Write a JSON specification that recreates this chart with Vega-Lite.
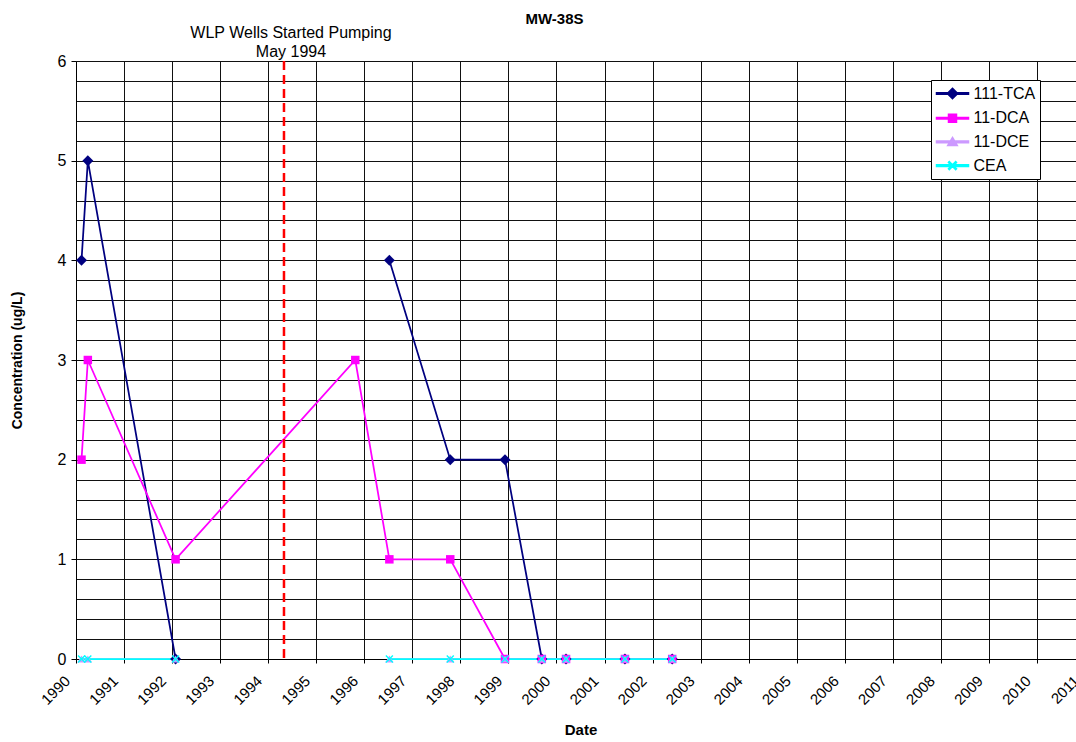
{
  "$schema": "https://vega.github.io/schema/vega-lite/v6.json",
  "width": 1009,
  "height": 598,
  "autosize": {"type": "none"},
  "padding": {"left": 76, "top": 61, "right": 0, "bottom": 83},
  "background": "white",
  "config": {
    "font": "Liberation Sans",
    "view": {"stroke": null},
    "axis": {
      "labelColor": "black",
      "labelFont": "Liberation Sans",
      "titleFont": "Liberation Sans",
      "titleColor": "black",
      "domainColor": "black",
      "domainWidth": 1,
      "tickColor": "black",
      "gridColor": "#111",
      "gridOpacity": 1,
      "gridWidth": 1
    }
  },
  "title": {
    "text": "MW-38S",
    "fontSize": 15,
    "fontWeight": "bold",
    "font": "Liberation Sans",
    "color": "black",
    "anchor": "middle",
    "offset": -2,
    "dx": -26
  },
  "datasets": {
    "samples": [
      {"date": "1990-02-12", "series": "111-TCA", "value": 4},
      {"date": "1990-04-01", "series": "111-TCA", "value": 5},
      {"date": "1992-01-28", "series": "111-TCA", "value": 0},
      {"date": "1995-10-25", "series": "111-TCA", "value": null},
      {"date": "1996-07-10", "series": "111-TCA", "value": 4},
      {"date": "1997-10-16", "series": "111-TCA", "value": 2},
      {"date": "1998-12-06", "series": "111-TCA", "value": 2},
      {"date": "1999-09-12", "series": "111-TCA", "value": 0},
      {"date": "2000-03-14", "series": "111-TCA", "value": 0},
      {"date": "2001-06-05", "series": "111-TCA", "value": 0},
      {"date": "2002-05-30", "series": "111-TCA", "value": 0},
      {"date": "1990-02-12", "series": "11-DCA", "value": 2},
      {"date": "1990-04-01", "series": "11-DCA", "value": 3},
      {"date": "1992-01-28", "series": "11-DCA", "value": 1},
      {"date": "1995-10-25", "series": "11-DCA", "value": 3},
      {"date": "1996-07-10", "series": "11-DCA", "value": 1},
      {"date": "1997-10-16", "series": "11-DCA", "value": 1},
      {"date": "1998-12-06", "series": "11-DCA", "value": 0},
      {"date": "1999-09-12", "series": "11-DCA", "value": 0},
      {"date": "2000-03-14", "series": "11-DCA", "value": 0},
      {"date": "2001-06-05", "series": "11-DCA", "value": 0},
      {"date": "2002-05-30", "series": "11-DCA", "value": 0},
      {"date": "1990-02-12", "series": "11-DCE", "value": 0},
      {"date": "1990-04-01", "series": "11-DCE", "value": 0},
      {"date": "1992-01-28", "series": "11-DCE", "value": 0},
      {"date": "1995-10-25", "series": "11-DCE", "value": null},
      {"date": "1996-07-10", "series": "11-DCE", "value": 0},
      {"date": "1997-10-16", "series": "11-DCE", "value": 0},
      {"date": "1998-12-06", "series": "11-DCE", "value": 0},
      {"date": "1999-09-12", "series": "11-DCE", "value": 0},
      {"date": "2000-03-14", "series": "11-DCE", "value": 0},
      {"date": "2001-06-05", "series": "11-DCE", "value": 0},
      {"date": "2002-05-30", "series": "11-DCE", "value": 0},
      {"date": "1990-02-12", "series": "CEA", "value": 0},
      {"date": "1990-04-01", "series": "CEA", "value": 0},
      {"date": "1992-01-28", "series": "CEA", "value": 0},
      {"date": "1995-10-25", "series": "CEA", "value": null},
      {"date": "1996-07-10", "series": "CEA", "value": 0},
      {"date": "1997-10-16", "series": "CEA", "value": 0},
      {"date": "1998-12-06", "series": "CEA", "value": 0},
      {"date": "1999-09-12", "series": "CEA", "value": 0},
      {"date": "2000-03-14", "series": "CEA", "value": 0},
      {"date": "2001-06-05", "series": "CEA", "value": 0},
      {"date": "2002-05-30", "series": "CEA", "value": 0}
    ],
    "events": [
      {"date": "1994-05-01", "label": ["WLP Wells Started Pumping", "May 1994"]}
    ]
  },
  "layer": [
    {
      "data": {"name": "samples"},
      "mark": {"type": "line", "strokeWidth": 1.75, "invalid": "break-paths-show-domains"},
      "encoding": {
        "x": {
          "field": "date",
          "type": "temporal",
          "scale": {"domain": [{"year": 1990, "month": 1, "date": 1}, {"year": 2011, "month": 1, "date": 1}]},
          "axis": {
            "title": "Date",
            "titleFontSize": 15,
            "titleFontWeight": "bold",
            "format": "%Y",
            "tickCount": {"interval": "year", "step": 1},
            "labelAngle": -45,
            "labelFontSize": 15,
            "labelPadding": 15,
            "labelBaseline": "middle",
            "labelAlign": "right",
            "labelOffset": -9,
            "tickSize": 4,
            "grid": true,
            "labelOverlap": false,
            "labelFlush": false,
            "titlePadding": 15
          }
        },
        "y": {
          "field": "value",
          "type": "quantitative",
          "scale": {"domain": [0, 6], "nice": false},
          "axis": {
            "title": "Concentration (ug/L)",
            "titleFontSize": 14,
            "titleFontWeight": "bold",
            "titlePadding": 33,
            "tickCount": 40,
            "values": [0, 0.2, 0.4, 0.6, 0.8, 1, 1.2, 1.4, 1.6, 1.8, 2, 2.2, 2.4, 2.6, 2.8, 3, 3.2, 3.4, 3.6, 3.8, 4, 4.2, 4.4, 4.6, 4.8, 5, 5.2, 5.4, 5.6, 5.8, 6],
            "labelExpr": "abs(datum.value - round(datum.value)) < 0.001 ? '' + round(datum.value) : ''",
            "tickOpacity": {"condition": {"test": "abs(datum.value - round(datum.value)) < 0.001", "value": 1}, "value": 0},
            "labelFontSize": 16,
            "labelPadding": 5,
            "labelOverlap": false,
            "tickSize": 5,
            "grid": true
          }
        },
        "color": {
          "field": "series",
          "type": "nominal",
          "scale": {"domain": ["111-TCA", "11-DCA", "11-DCE", "CEA"], "range": ["#000080", "#FF00FF", "#CC99FF", "#00FFFF"]}
        }
      }
    },
    {
      "data": {"name": "samples"},
      "transform": [{"filter": "false"}],
      "mark": {"type": "point", "filled": true, "opacity": 1},
      "encoding": {
        "x": {"field": "date", "type": "temporal"},
        "y": {"field": "value", "type": "quantitative"},
        "color": {
          "field": "series",
          "type": "nominal",
          "scale": {"domain": ["111-TCA", "11-DCA", "11-DCE", "CEA"], "range": ["#000080", "#FF00FF", "#CC99FF", "#00FFFF"]},
          "legend": {
            "orient": "none",
            "legendX": 855,
            "legendY": 19,
            "title": null,
            "fillColor": "white",
            "strokeColor": "black",
            "padding": 4.5,
            "labelFontSize": 16,
            "labelFont": "Liberation Sans",
            "labelColor": "black",
            "symbolSize": 256,
            "labelOffset": 20,
            "rowPadding": 6.7
          }
        },
        "shape": {
          "field": "series",
          "type": "nominal",
          "scale": {
            "domain": ["111-TCA", "11-DCA", "11-DCE", "CEA"],
            "range": [
              "M-1,-0.1H3V0.1H-1ZM1,-0.65L1.65,0L1,0.65L0.35,0Z",
              "M-1,-0.1H3V0.1H-1ZM0.5,-0.5H1.5V0.5H0.5Z",
              "M-1,-0.1H3V0.1H-1ZM1,-0.55L1.6,0.45H0.4Z",
              "M-1,-0.1H3V0.1H-1ZM0.5,-0.4L0.6,-0.5L1,-0.1L1.4,-0.5L1.5,-0.4L1.1,0L1.5,0.4L1.4,0.5L1,0.1L0.6,0.5L0.5,0.4L0.9,0Z"
            ]
          }
        }
      }
    },
    {
      "data": {"name": "samples"},
      "transform": [{"filter": "datum.series === '111-TCA'"}],
      "mark": {"type": "point", "filled": true, "opacity": 1, "shape": "diamond", "size": 120},
      "encoding": {
        "x": {"field": "date", "type": "temporal"},
        "y": {"field": "value", "type": "quantitative"},
        "color": {"field": "series", "type": "nominal"}
      }
    },
    {
      "data": {"name": "samples"},
      "transform": [{"filter": "datum.series === '11-DCA'"}],
      "mark": {"type": "point", "filled": true, "opacity": 1, "shape": "square", "size": 72},
      "encoding": {
        "x": {"field": "date", "type": "temporal"},
        "y": {"field": "value", "type": "quantitative"},
        "color": {"field": "series", "type": "nominal"}
      }
    },
    {
      "data": {"name": "samples"},
      "transform": [{"filter": "datum.series === '11-DCE'"}],
      "mark": {"type": "point", "filled": true, "opacity": 1, "shape": "triangle-up", "size": 70},
      "encoding": {
        "x": {"field": "date", "type": "temporal"},
        "y": {"field": "value", "type": "quantitative"},
        "color": {"field": "series", "type": "nominal"}
      }
    },
    {
      "data": {"name": "samples"},
      "transform": [{"filter": "datum.series === 'CEA'"}],
      "mark": {"type": "point", "filled": true, "opacity": 1, "shape": "M-1,-0.75L-0.75,-1L0,-0.25L0.75,-1L1,-0.75L0.25,0L1,0.75L0.75,1L0,0.25L-0.75,1L-1,0.75L-0.25,0Z", "size": 64},
      "encoding": {
        "x": {"field": "date", "type": "temporal"},
        "y": {"field": "value", "type": "quantitative"},
        "color": {"field": "series", "type": "nominal"}
      }
    },
    {
      "data": {"name": "events"},
      "mark": {"type": "rule", "color": "#FF0000", "strokeWidth": 2.5, "strokeDash": [9, 5]},
      "encoding": {
        "x": {"field": "date", "type": "temporal"}
      }
    },
    {
      "data": {"name": "events"},
      "mark": {"type": "text", "font": "Liberation Sans", "fontSize": 16, "color": "black", "align": "center", "baseline": "bottom", "lineHeight": 19, "dx": 7, "dy": -20},
      "encoding": {
        "x": {"field": "date", "type": "temporal"},
        "y": {"datum": 6, "type": "quantitative"},
        "text": {"field": "label"}
      }
    }
  ]
}
